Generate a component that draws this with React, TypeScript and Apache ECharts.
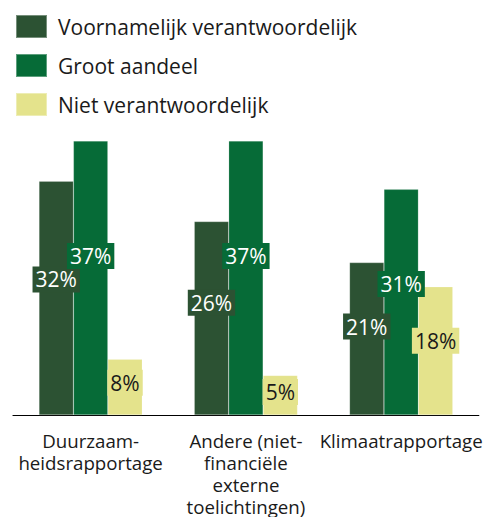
import React, { useEffect, useRef } from "react";
import * as echarts from "echarts";

const categories = [
  "Duurzaam-\nheidsrapportage",
  "Andere (niet-\nfinanciële\nexterne\ntoelichtingen)",
  "Klimaatrapportage",
];
const seriesNames = ["Voornamelijk verantwoordelijk", "Groot aandeel", "Niet verantwoordelijk"];
const mainlyResponsible = [31.9, 26.4, 20.8];
const largeShare = [37.4, 37.4, 30.8];
const notResponsible = [7.6, 5.4, 17.5];
const colors = ["#2c5233", "#066b37", "#e4e38c"];
const labelColors = ["#ffffff", "#ffffff", "#1a1a1a"];

export default function App() {
  const ref = useRef<HTMLDivElement>(null);
  useEffect(() => {
    if (!ref.current) return;
    const chart = echarts.init(ref.current, null, { renderer: "svg" });
    const font = "'Open Sans', 'Noto Sans', sans-serif";
    const data = [mainlyResponsible, largeShare, notResponsible];
    chart.setOption({
      animation: false,
      textStyle: { fontFamily: font },
      legend: {
        orient: "vertical",
        left: 10,
        top: 9,
        itemWidth: 31,
        itemHeight: 23,
        itemGap: 14,
        icon: "rect",
        data: seriesNames,
        textStyle: {
          fontFamily: font,
          fontSize: 21,
          color: "#1a1a1a",
          lineHeight: 23,
          padding: [0, 0, 0, 6],
        },
      },
      grid: { left: 13, right: 2, top: 141, bottom: 101, containLabel: false },
      xAxis: {
        type: "category",
        data: categories,
        axisLine: { lineStyle: { color: "#000", width: 1.2 } },
        axisTick: { length: 6, lineStyle: { color: "#000", width: 1.2 } },
        axisLabel: {
          fontFamily: font,
          fontSize: 18.7,
          lineHeight: 22,
          color: "#1a1a1a",
          margin: 14,
          interval: 0,
        },
      },
      yAxis: { type: "value", show: false, min: 0, max: "dataMax" },
      series: data.map((d, i) => ({
        name: seriesNames[i],
        type: "bar",
        data: d,
        barGap: "0%",
        barCategoryGap: "33.5%",
        itemStyle: { color: colors[i], borderColor: "rgba(255,255,255,0.35)", borderWidth: 0.5 },
        label: {
          show: true,
          position: ["50%", "42%"],
          align: "center",
          verticalAlign: "middle",
          formatter: (p: any) => Math.round(p.value) + "%",
          fontFamily: font,
          fontSize: 21,
          lineHeight: 23,
          color: labelColors[i],
          backgroundColor: colors[i],
          padding: [2, 3, 1, 3],
        },
      })),
    });
    return () => chart.dispose();
  }, []);
  return <div ref={ref} style={{ width: 485, height: 517, position: "absolute", left: 0, top: 0 }} />;
}
